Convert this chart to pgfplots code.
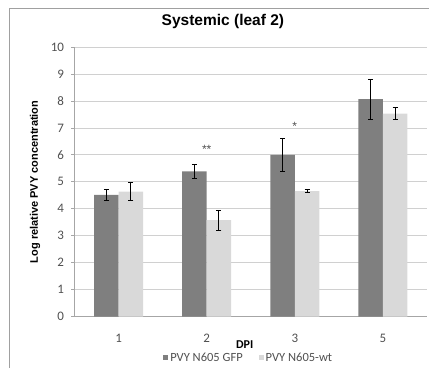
\documentclass[border=0pt]{standalone}
\usepackage{pgfplots}
\pgfplotsset{compat=1.18}
\usepackage{fontspec}
\setmainfont{Carlito}
\newfontfamily\arialfont{Liberation Sans}
\definecolor{darkbar}{HTML}{7F7F7F}
\definecolor{lightbar}{HTML}{D9D9D9}
\definecolor{gridc}{HTML}{D0D0D0}
\definecolor{axisc}{HTML}{A6A6A6}
\definecolor{textc}{HTML}{505050}
\definecolor{borderc}{HTML}{A0A0A0}
\begin{document}
\begin{tikzpicture}[x=1pt,y=1pt]
\useasboundingbox (0,0) rectangle (429,368);
\draw[borderc, line width=1pt] (9.5,0) -- (9.5,360) -- (429,360);
\begin{axis}[
  at={(74.5pt,51.3pt)}, anchor=south west,
  scale only axis, width=352.5pt, height=269.7pt,
  xmin=-0.5, xmax=3.5, ymin=0, ymax=10,
  ytick={0,1,...,10},
  xtick={0,1,2,3}, xticklabels={1,2,3,5},
  /pgf/number format/assume math mode=true,
  axis lines*=left,
  axis line style={axisc, line width=0.8pt},
  x axis line style={-}, y axis line style={-},
  ymajorgrids, grid style={gridc, line width=0.8pt},
  major tick length=3pt,
  ytick style={axisc, line width=0.8pt},
  xtick style={draw=none},
  tick align=outside,
  tick label style={font=\fontsize{13}{15}\selectfont, text=textc},
  yticklabel style={font=\fontsize{13}{15}\selectfont, xshift=-4pt},
  xticklabel style={font=\fontsize{13}{15}\selectfont, anchor=center, yshift=-18.3pt},
  ybar=0pt, bar width=24.5pt,
  title={Systemic (leaf 2)},
  title style={font=\arialfont\bfseries\fontsize{15.5}{18}\selectfont, at={(axis description cs:0.421,1)}, anchor=center, yshift=20pt},
  xlabel={DPI},
  xlabel style={font=\bfseries\fontsize{12}{14}\selectfont, at={(axis description cs:0.5,0)}, anchor=center, yshift=-27.5pt, xshift=-6pt},
  ylabel={Log relative PVY concentration},
  ylabel style={font=\arialfont\bfseries\fontsize{11}{13}\selectfont, at={(axis description cs:-0.112,0.5)}, anchor=center},
  legend columns=2,
  legend style={draw=none, fill=none, at={(axis description cs:0.5,0)}, anchor=center, yshift=-41pt, xshift=-2pt,
    font=\fontsize{12.5}{14}\selectfont, text=textc,
    /tikz/every even column/.append style={column sep=14pt}},
  legend image code/.code={\fill[#1] (0pt,-2.5pt) rectangle (5pt,2.5pt);},
  error bars/y dir=both, error bars/y explicit,
  error bars/error mark options={rotate=90, mark size=2.5pt, line width=1pt, black},
  error bars/error bar style={line width=1pt, black},
]
\addplot[fill=darkbar, draw=none] coordinates {
  (0,4.52) +- (0,0.20)
  (1,5.39) +- (0,0.26)
  (2,6.00) +- (0,0.61)
  (3,8.07) +- (0,0.74)
};
\addplot[fill=lightbar, draw=none] coordinates {
  (0,4.64) +- (0,0.32)
  (1,3.58) +- (0,0.37)
  (2,4.66) +- (0,0.04)
  (3,7.53) +- (0,0.22)
};
\legend{PVY N605 GFP, PVY N605-wt}
\node[text=textc, font=\arialfont\fontsize{12}{14}\selectfont] at (axis cs:1,6.22) {**};
\node[text=textc, font=\arialfont\fontsize{12}{14}\selectfont] at (axis cs:2,7.07) {*};
\end{axis}
\end{tikzpicture}
\end{document}
